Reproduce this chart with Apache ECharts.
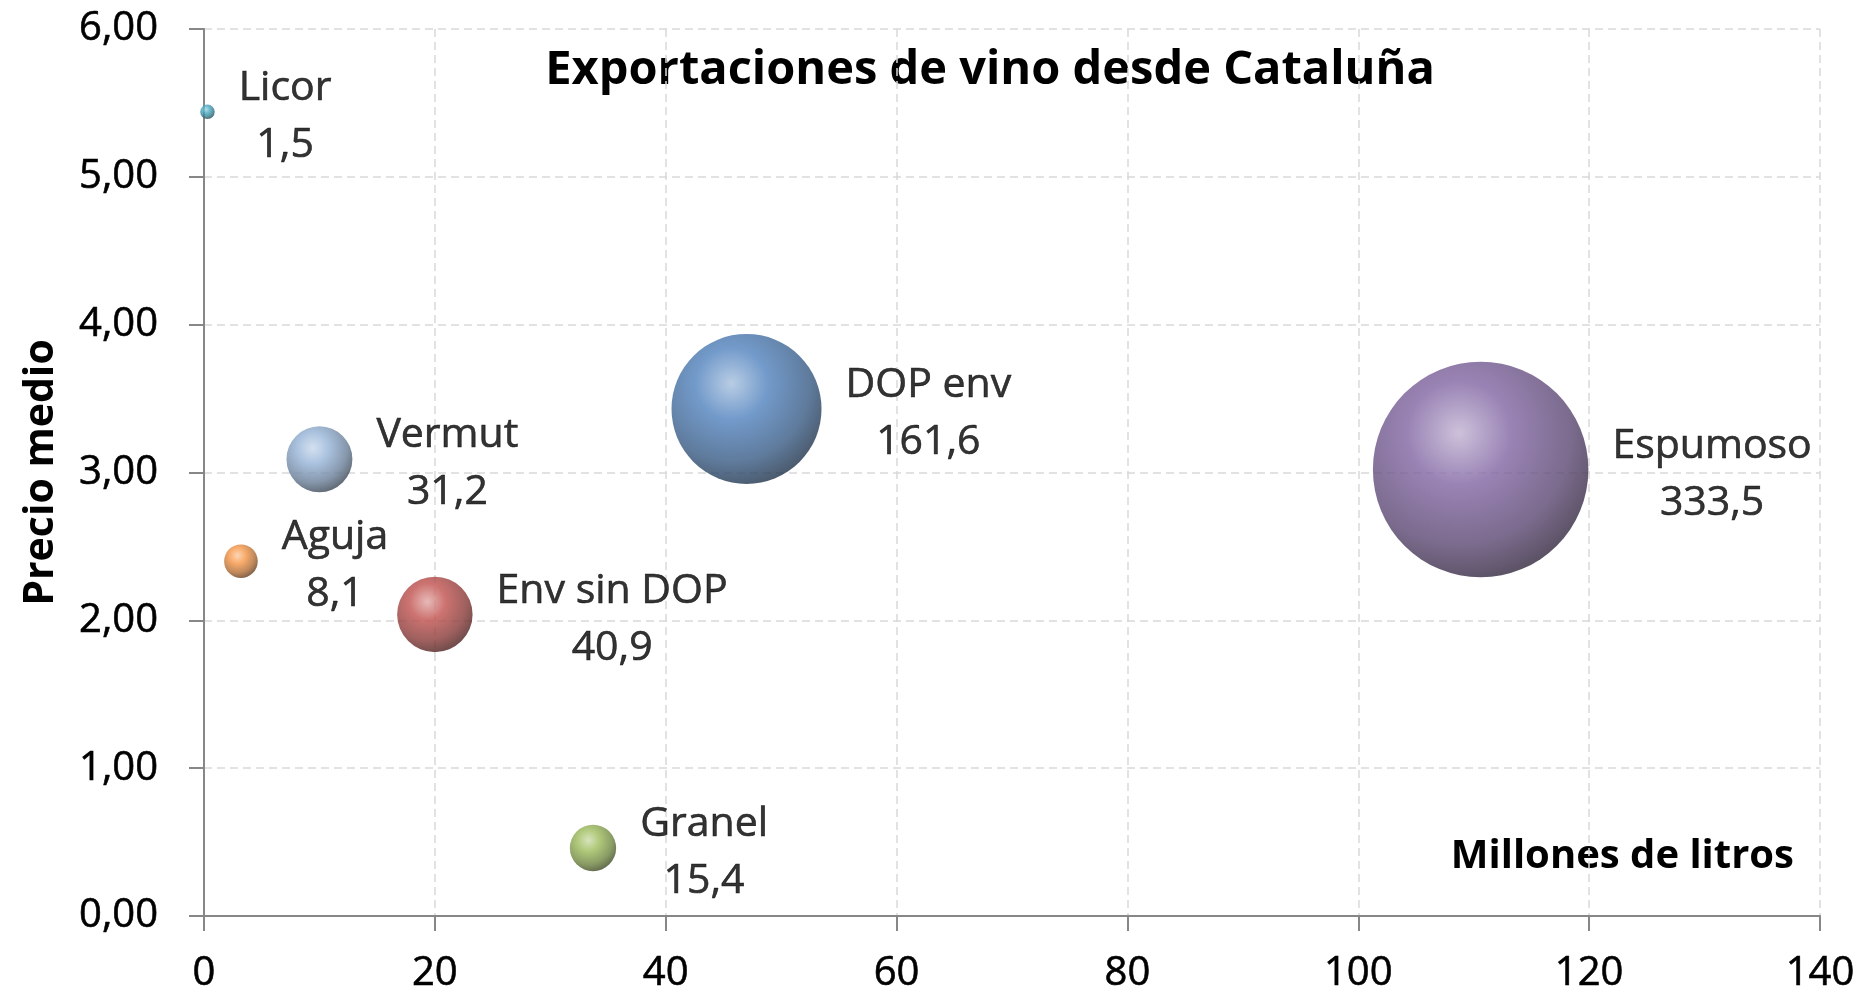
<!DOCTYPE html>
<html>
<head>
<meta charset="utf-8">
<title>Exportaciones de vino desde Cataluña</title>
<script src="https://cdn.jsdelivr.net/npm/echarts@6/dist/echarts.min.js"></script>
<style>
  html, body { margin: 0; padding: 0; background: #fff; }
  #main { width: 1872px; height: 996px; }
</style>
</head>
<body>
<div id="main"></div>
<script>
// datos
const categorias = ['Licor', 'Vermut', 'Aguja', 'Env sin DOP', 'Granel', 'DOP env', 'Espumoso'];
const litros = [0.3, 10.0, 3.2, 20.0, 33.7, 47.0, 110.6];      // millones de litros (eje x)
const precio = [5.44, 3.09, 2.40, 2.04, 0.46, 3.43, 3.02];     // precio medio (eje y)
const valor = [1.5, 31.2, 8.1, 40.9, 15.4, 161.6, 333.5];      // tamaño de la burbuja
const colores = ['#4BACC6', '#95B3D7', '#F79646', '#C0504D', '#9BBB59', '#4F81BD', '#8064A2'];

const fuente = "'Open Sans', sans-serif";
// un poco de trazo para que el texto normal se vea tan negro como en el original
const trazo = { textBorderColor: '#000', textBorderWidth: 0.6 };

function mezcla(hex, dest, t) {
  const a = parseInt(hex.slice(1), 16);
  const b = parseInt(dest.slice(1), 16);
  const ch = (v, s) => (v >> s) & 255;
  const m = s => Math.round(ch(a, s) + (ch(b, s) - ch(a, s)) * t);
  return 'rgb(' + m(16) + ',' + m(8) + ',' + m(0) + ')';
}

// relleno tipo esfera 3D como en Excel
function esfera(c) {
  return {
    type: 'radial', x: 0.4, y: 0.33, r: 0.8,
    colorStops: [
      { offset: 0, color: mezcla(c, '#ffffff', 0.5) },
      { offset: 0.3, color: c },
      { offset: 0.65, color: mezcla(c, '#000000', 0.3) },
      { offset: 1, color: mezcla(c, '#000000', 0.8) }
    ]
  };
}

const coma = (v, d) => v.toFixed(d).replace('.', ',');

const datos = categorias.map((n, i) => ({
  name: n,
  value: [litros[i], precio[i], valor[i]],
  itemStyle: { color: esfera(colores[i]) }
}));

const myChart = echarts.init(document.getElementById('main'));
const option = {
  animation: false,
  grid: { left: 204, right: 52, top: 29, bottom: 80 },
  graphic: [
    {
      type: 'text', x: 990, y: 71,
      style: {
        text: 'Exportaciones de vino desde Cataluña',
        font: 'bold 47px ' + fuente, fill: '#000',
        align: 'center', verticalAlign: 'middle'
      }
    },
    {
      type: 'text', x: 1794, y: 857,
      style: {
        text: 'Millones de litros',
        font: 'bold 40px ' + fuente, fill: '#000',
        align: 'right', verticalAlign: 'middle'
      }
    }
  ],
  xAxis: {
    type: 'value', min: 0, max: 140, interval: 20,
    axisLine: { lineStyle: { color: '#878787', width: 2 } },
    axisTick: { show: true, length: 15, lineStyle: { color: '#878787', width: 2 } },
    axisLabel: Object.assign({ color: '#000', fontFamily: fuente, fontSize: 40, margin: 38 }, trazo),
    splitLine: { show: true, lineStyle: { color: '#d9d9d9', width: 1.5, type: [8, 5] } }
  },
  yAxis: {
    type: 'value', min: 0, max: 6, interval: 1,
    name: 'Precio medio', nameLocation: 'middle', nameGap: 142, nameRotate: 90,
    nameTextStyle: { color: '#000', fontFamily: fuente, fontSize: 41, fontWeight: 'bold' },
    axisLine: { show: true, lineStyle: { color: '#878787', width: 2 } },
    axisTick: { show: true, length: 15, lineStyle: { color: '#878787', width: 2 } },
    axisLabel: Object.assign({ color: '#000', fontFamily: fuente, fontSize: 40, margin: 46, formatter: v => coma(v, 2) }, trazo),
    splitLine: { show: true, lineStyle: { color: '#d9d9d9', width: 1.5, type: [8, 5] } }
  },
  series: [
    {
      type: 'scatter',
      data: datos,
      symbolSize: v => Math.sqrt(v[2]) * 11.8,
      label: {
        show: true,
        position: 'right',
        distance: 24,
        offset: [0, 5],
        color: '#000',
        formatter: p => '{a|' + p.name + '}\n{a|' + coma(p.value[2], 1) + '}',
        rich: {
          a: Object.assign({ fontFamily: fuente, fontSize: 41, color: '#000', lineHeight: 57, align: 'center' }, trazo)
        }
      }
    }
  ]
};
myChart.setOption(option);
</script>
</body>
</html>
